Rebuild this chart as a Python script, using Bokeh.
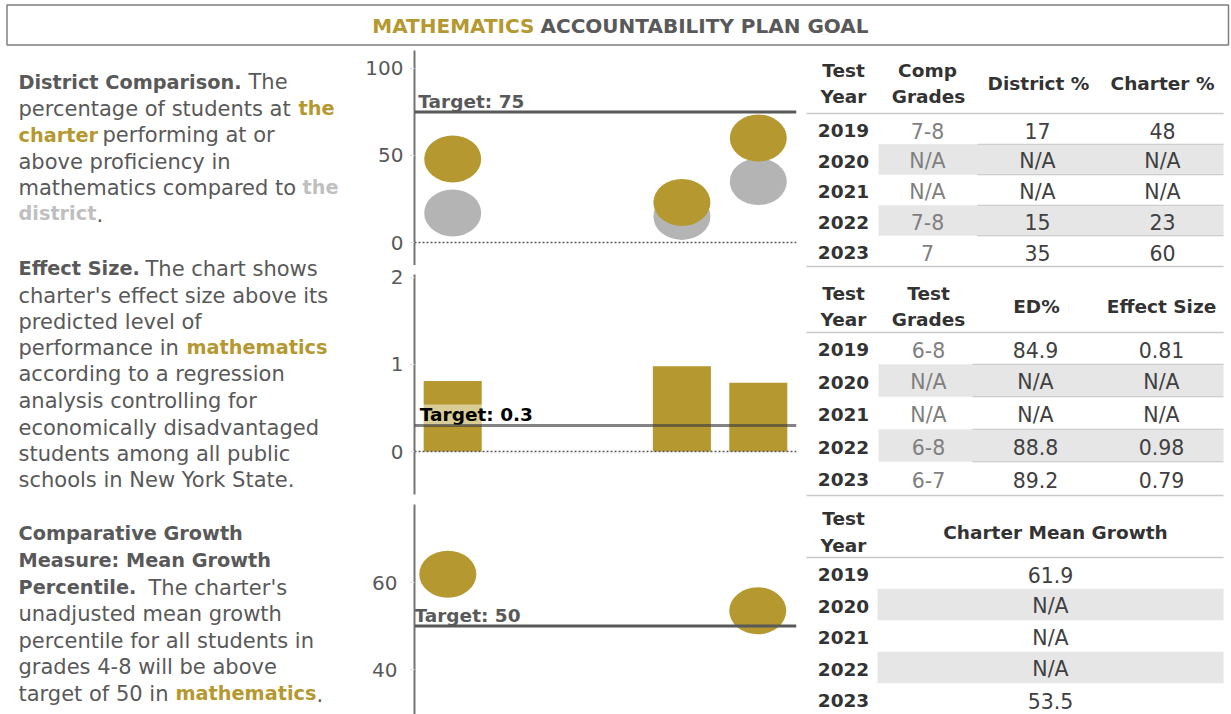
import numpy as np
from bokeh.plotting import figure
from bokeh.models import Range1d, Span, FixedTicker, ColumnDataSource
from bokeh.layouts import row, column
from bokeh.embed import file_html
from bokeh.resources import INLINE
from bokeh.core.properties import value

NAN = float("nan")

# ---------------- data ----------------
years = [2019, 2020, 2021, 2022, 2023]
comp_grades = ["7-8", "N/A", "N/A", "7-8", "7"]
district_pct = [17, NAN, NAN, 15, 35]
charter_pct = [48, NAN, NAN, 23, 60]
test_grades = ["6-8", "N/A", "N/A", "6-8", "6-7"]
ed_pct = [84.9, NAN, NAN, 88.8, 89.2]
effect_size = [0.81, NAN, NAN, 0.98, 0.79]
mean_growth = [61.9, NAN, NAN, NAN, 53.5]
target_prof = 75
target_effect = 0.3
target_growth = 50
ticks_prof = [0, 50, 100]
ticks_effect = [0, 1, 2]
ticks_growth = [40, 60]

# ---------------- style ----------------
FONT = "DejaVu Sans"
GOLD = "#B5982F"
DOT_GRAY = "#B4B4B4"
TXT = "#595959"
LIGHT = "#BFBFBF"
DARK = "#333333"
VAL = "#404040"
MID = "#7F7F7F"
SHADE = "#E6E6E6"
RULE = "#C9C9C9"


def blank(w, h, xr, yr):
    p = figure(width=w, height=h, x_range=xr, y_range=yr, toolbar_location=None,
               output_backend="svg", x_axis_location=None, y_axis_location=None,
               min_border=0, outline_line_color=None, background_fill_color="white",
               border_fill_color="white")
    p.grid.visible = False
    return p


def fmt(v, spec):
    return "N/A" if (isinstance(v, float) and np.isnan(v)) else format(v, spec)


# ---------------- title ----------------
title = blank(1231, 50, Range1d(0, 1231), Range1d(50, 0))
title.quad(left=[6.5], right=[1228], top=[4.5], bottom=[44.5], fill_color=None,
           line_color="#7F7F7F", line_width=1.5)
title.text(x=[534], y=[25], text=["MATHEMATICS"], text_font=value(FONT), text_font_size="20px",
           text_font_style="bold", text_color=GOLD, text_align="right", text_baseline="middle")
title.text(x=[540], y=[25], text=["ACCOUNTABILITY PLAN GOAL"], text_font=value(FONT),
           text_font_size="20px", text_font_style="bold", text_color=TXT, text_align="left",
           text_baseline="middle")

# ---------------- left descriptive text ----------------
segments = [
    (18, 81.5, "District Comparison.", "b"), (248, 81.5, "The", "r"),
    (18, 108, "percentage of students at", "r"), (298, 108, "the", "g"),
    (18, 134.5, "charter", "g"), (102, 134.5, "performing at or", "r"),
    (18, 161, "above proficiency in", "r"),
    (18, 187, "mathematics compared to", "r"), (302, 187, "the", "l"),
    (18, 213, "district", "l"), (96, 213, ".", "r"),
    (18, 268, "Effect Size.", "b"), (145, 268, "The chart shows", "r"),
    (18, 295, "charter's effect size above its", "r"),
    (18, 321, "predicted level of", "r"),
    (18, 347, "performance in", "r"), (186, 347, "mathematics", "g"),
    (18, 373.5, "according to a regression", "r"),
    (18, 400, "analysis controlling for", "r"),
    (18, 427, "economically disadvantaged", "r"),
    (18, 453, "students among all public", "r"),
    (18, 479, "schools in New York State.", "r"),
    (18, 533, "Comparative Growth", "b"),
    (18, 560, "Measure: Mean Growth", "b"),
    (18, 587, "Percentile.", "b"), (148, 587, "The charter's", "r"),
    (18, 613, "unadjusted mean growth", "r"),
    (18, 640, "percentile for all students in", "r"),
    (18, 666, "grades 4-8 will be above", "r"),
    (18, 693, "target of 50 in", "r"), (175, 693, "mathematics", "g"), (316, 693, ".", "r"),
]
kinds = {"r": (TXT, "21px", "normal"), "b": (TXT, "19.3px", "bold"),
         "g": (GOLD, "19.3px", "bold"), "l": (LIGHT, "19.3px", "bold")}
left_src = ColumnDataSource(dict(
    x=[s[0] for s in segments], y=[s[1] for s in segments], t=[s[2] for s in segments],
    color=[kinds[s[3]][0] for s in segments], size=[kinds[s[3]][1] for s in segments],
    style=[kinds[s[3]][2] for s in segments]))
left = blank(360, 664, Range1d(0, 360), Range1d(714, 50))
left.text(x="x", y="y", text="t", source=left_src, text_font=value(FONT), text_font_size="size",
          text_font_style="style", text_color="color", text_align="left", text_baseline="middle")


# ---------------- charts ----------------
def chart(h, top_b, bot_b, xr, yr, ticks, standoff=6):
    p = figure(width=440, height=h, x_range=Range1d(*xr), y_range=Range1d(*yr),
               toolbar_location=None, output_backend="svg", x_axis_location=None,
               min_border=0, min_border_left=54, min_border_right=4,
               min_border_top=top_b, min_border_bottom=bot_b, outline_line_color=None,
               background_fill_color="white", border_fill_color="white")
    p.grid.visible = False
    ax = p.yaxis[0]
    ax.ticker = FixedTicker(ticks=ticks)
    ax.axis_line_color = "#737373"
    ax.axis_line_width = 2
    ax.major_tick_line_color = "#E3E3E3"
    ax.major_tick_out = 5
    ax.major_tick_in = 0
    ax.minor_tick_line_color = None
    ax.major_label_standoff = standoff
    ax.major_label_text_font = FONT
    ax.major_label_text_font_size = "20px"
    ax.major_label_text_color = TXT
    return p


yrs = np.array(years, dtype=float)
LBL = dict(text_font=value(FONT), text_font_size="18.5px", text_font_style="bold",
           text_align="left", text_baseline="bottom")

# chart 1: district comparison
c1 = chart(215, 0, 0, (2018.5, 2023.5), (-13.2, 110.3), ticks_prof)
c1.add_layout(Span(location=0, dimension="width", line_color=TXT, line_width=1.5, line_dash="2 2"))
c1.ellipse(x=yrs, y=np.array(district_pct, dtype=float), width=57, height=47,
           width_units="screen", height_units="screen", fill_color=DOT_GRAY, line_color=None)
c1.ellipse(x=yrs, y=np.array(charter_pct, dtype=float), width=57, height=47,
           width_units="screen", height_units="screen", fill_color=GOLD, line_color=None)
c1.add_layout(Span(location=target_prof, dimension="width", line_color=TXT, line_width=3))
c1.text(x=[2018.55], y=[target_prof], text=[f"Target: {target_prof}"], text_color=TXT, **LBL)

# chart 2: effect size
c2 = chart(235, 9, 6, (2018.5, 2023.5), (-0.494, 2.034), ticks_effect)
c2.add_layout(Span(location=0, dimension="width", line_color=TXT, line_width=1.5, line_dash="2 2"))
c2.vbar(x=yrs, top=np.array(effect_size, dtype=float), width=0.76, fill_color=GOLD, line_color=None)
c2.add_layout(Span(location=target_effect, dimension="width", line_color="#404040",
                   line_alpha=0.65, line_width=3))
c2.text(x=[2018.57], y=[target_effect], text=[f"Target: {target_effect}"], text_color="black",
        background_fill_color="white", background_fill_alpha=0.5, **LBL)

# chart 3: mean growth percentile
c3 = chart(214, 4, 0, (2018.57, 2023.5), (29.66, 77.93), ticks_growth, standoff=12)
c3.ellipse(x=yrs, y=np.array(mean_growth, dtype=float), width=57, height=47,
           width_units="screen", height_units="screen", fill_color=GOLD, line_color=None)
c3.add_layout(Span(location=target_growth, dimension="width", line_color=TXT, line_width=3))
c3.text(x=[2018.57], y=[target_growth], text=[f"Target: {target_growth}"], text_color=TXT, **LBL)

# ---------------- tables ----------------
tab = blank(431, 664, Range1d(800, 1231), Range1d(714, 50))
T = dict(x=[], y=[], t=[], color=[], size=[], style=[])


def put(x, y, t, color, size, style):
    T["x"].append(x); T["y"].append(y); T["t"].append(t)
    T["color"].append(color); T["size"].append(size); T["style"].append(style)


HS, HB = "18.5px", "bold"
VS = "20.5px"
tables = [
    dict(headers=[(843, 70, "Test"), (843, 96, "Year"), (927, 70, "Comp"), (928, 96, "Grades"),
                  (1038, 83, "District %"), (1162, 83, "Charter %")],
         xs=[843, 927, 1037, 1162], y0=130, pitch=30.5, rule=113, bottom=266,
         cols=[(comp_grades, MID), ([fmt(v, ".0f") for v in district_pct], VAL),
               ([fmt(v, ".0f") for v in charter_pct], VAL)], inner=977, shade_left=878),
    dict(headers=[(843, 293, "Test"), (843, 319, "Year"), (928, 293, "Test"), (928, 319, "Grades"),
                  (1036, 306, "ED%"), (1161, 306, "Effect Size")],
         xs=[843, 928, 1035, 1161], y0=349, pitch=32.5, rule=332, bottom=495,
         cols=[(test_grades, MID), ([fmt(v, ".1f") for v in ed_pct], VAL),
               ([fmt(v, ".2f") for v in effect_size], VAL)], inner=972, shade_left=878),
    dict(headers=[(843, 518, "Test"), (843, 545, "Year"), (1055, 532, "Charter Mean Growth")],
         xs=[843, 1050], y0=574, pitch=31.5, rule=557, bottom=None,
         cols=[([fmt(v, ".1f") for v in mean_growth], VAL)], inner=None, shade_left=877),
]

for tb in tables:
    ys = [tb["y0"] + i * tb["pitch"] for i in range(len(years))]
    sh = [i for i in range(len(years)) if i % 2 == 1]
    tab.quad(left=[tb["shade_left"]] * len(sh), right=[1223] * len(sh),
             top=[ys[i] - tb["pitch"] / 2 - 1.5 for i in sh],
             bottom=[ys[i] + tb["pitch"] / 2 - 1.5 for i in sh], fill_color=SHADE, line_color=None)
    if tb["inner"] is not None:
        yy = []
        for i in sh:
            yy += [ys[i] - tb["pitch"] / 2 - 1.5, ys[i] + tb["pitch"] / 2 - 1.5]
        tab.segment(x0=[tb["inner"]] * len(yy), x1=[1223] * len(yy), y0=yy, y1=yy,
                    line_color="#C4C4C4", line_width=1)
    rules = [tb["rule"]] + ([tb["bottom"]] if tb["bottom"] else [])
    tab.segment(x0=[806] * len(rules), x1=[1223] * len(rules), y0=rules, y1=rules,
                line_color=RULE, line_width=1.5)
    for (hx, hy, ht) in tb["headers"]:
        put(hx, hy, ht, DARK, HS, HB)
    for i, yv in enumerate(years):
        put(tb["xs"][0], ys[i], str(yv), DARK, HS, HB)
        for j, (vals, colr) in enumerate(tb["cols"]):
            put(tb["xs"][j + 1], ys[i], vals[i], colr, VS, "normal")

tab.text(x="x", y="y", text="t", source=ColumnDataSource(T), text_font=value(FONT),
         text_font_size="size", text_font_style="style", text_color="color",
         text_align="center", text_baseline="middle")

layout = column(title, row(left, column(c1, c2, c3), tab))

with open("out.html", "w") as f:
    f.write(file_html(layout, INLINE, title="Mathematics Accountability Plan Goal"))
